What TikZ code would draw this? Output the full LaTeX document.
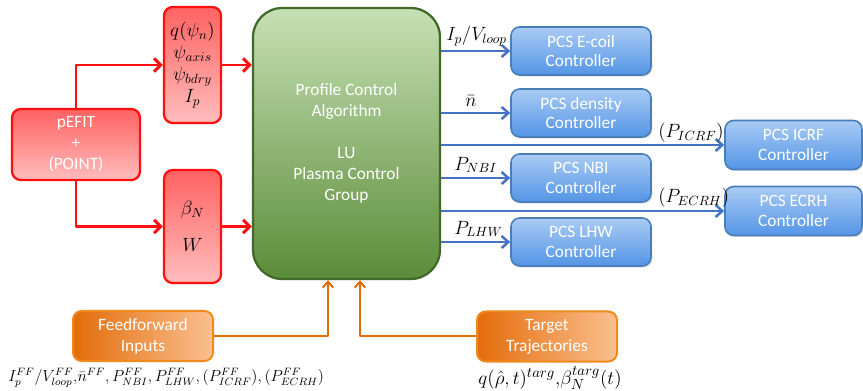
\documentclass[tikz,border=0pt]{standalone}
\usepackage{fontspec}
\setmainfont{Carlito}
\usetikzlibrary{arrows.meta,shadows}
\definecolor{redline}{HTML}{FF1010}
\definecolor{redtop}{HTML}{FF6262}
\definecolor{redbot}{HTML}{FFBDBD}
\definecolor{greentop}{HTML}{C6E0B4}
\definecolor{greenbot}{HTML}{5B8C39}
\definecolor{greenline}{HTML}{41692A}
\definecolor{bluetop}{HTML}{A9CBF4}
\definecolor{bluebot}{HTML}{5495E6}
\definecolor{blueline}{HTML}{4A7EBB}
\definecolor{bluearrow}{HTML}{4472C4}
\definecolor{orangeleft}{HTML}{E46C0A}
\definecolor{orangeright}{HTML}{FAC08F}
\definecolor{orangeline}{HTML}{F08A1C}
\begin{document}
\begin{tikzpicture}[x=.75pt,y=-.75pt,line join=round,
	font=\fontsize{13}{15.75}\selectfont,
	redbox/.style={draw=redline,line width=1.7pt,rounded corners=6.5pt,top color=redtop,bottom color=redbot,inner sep=0pt,align=center},
	bluebox/.style={draw=blueline,line width=1.2pt,rounded corners=6.5pt,top color=bluetop,bottom color=bluebot,inner sep=0pt,align=center,text=white,
		font=\fontsize{13}{14.5}\selectfont,drop shadow={opacity=.25,shadow xshift=1pt,shadow yshift=-1.2pt}},
	orangebox/.style={draw=orangeline,line width=1.5pt,rounded corners=6.5pt,left color=orangeleft,right color=orangeright,inner sep=0pt,align=center,text=white,
		minimum width=105pt,minimum height=37.5pt},
	redarrow/.style={draw=redline,line width=2.2pt,-{Straight Barb[length=5pt,width=10pt,line width=2.2pt]}},
	bluearrow/.style={draw=bluearrow,line width=1.9pt,-{Straight Barb[length=5pt,width=9pt,line width=1.9pt]}},
	orangearrow/.style={draw=orangeleft,line width=1.5pt,-{Straight Barb[length=4.5pt,width=8pt,line width=1.5pt]}},
	lbl/.style={inner sep=0pt,font=\fontsize{14}{16}\selectfont}]
	\useasboundingbox (0,0) rectangle (863,391);
	% sensing side
	\node[redbox,text=white,minimum width=96pt,minimum height=53.25pt] (pefit) at (76,144.5) {pEFIT\\+\\(POINT)};
	\node[redbox,minimum width=42.75pt,minimum height=87pt,font=\fontsize{14.5}{16.5}\selectfont] (qbox) at (192.5,65) {$q(\psi_n)$\\$\psi_{axis}$\\$\psi_{bdry}$\\$I_p$};
	\node[redbox,minimum width=42.75pt,minimum height=84.75pt,font=\fontsize{14.5}{27.75}\selectfont] (bbox) at (192.5,226.5) {$\beta_N$\\$W$};
	% controller
	\node[draw=greenline,line width=1.7pt,rounded corners=22pt,top color=greentop,bottom color=greenbot,minimum width=140.25pt,minimum height=203.25pt,
		inner sep=0pt,align=center,text=white] (pcs) at (346.5,143.5) {Profile Control\\Algorithm\\[15.75pt]LU\\Plasma Control\\Group};
	% actuators
	\foreach \nm/\txt/\y in {ecoil/E-coil/51,dens/density/113,nbi/NBI/178,lhw/LHW/242}
		\node[bluebox,minimum width=105pt,minimum height=36pt] (\nm) at (581,\y) {PCS \txt\\Controller};
	\foreach \nm/\txt/\y in {icrf/ICRF/145,ecrh/ECRH/211}
		\node[bluebox,minimum width=102.75pt,minimum height=36.75pt] (\nm) at (793.5,\y) {PCS \txt\\Controller};
	% references
	\node[orangebox] (ff) at (143,336) {Feedforward\\Inputs};
	\node[orangebox] (targ) at (547,336.5) {Target\\Trajectories};
	\node[lbl,anchor=west,font=\fontsize{11.6}{14}\selectfont] (fflbl) at (8,378) {$I_p^{FF}/V_{loop}^{FF}{,}\bar{n}^{FF}{,}\,P_{NBI}^{FF}{,}\,P_{LHW}^{FF}{,}\,(P_{ICRF}^{FF}){,}\,(P_{ECRH}^{FF})$};
	\node[lbl,font=\fontsize{15}{17}\selectfont] (targlbl) at (550,378) {$q(\hat{\rho},t)^{targ}{,}\beta_N^{targ}(t)$};
	% connectors
	\draw[redarrow] (pefit.north) |- (qbox.west);
	\draw[redarrow] (pefit.south) |- (bbox.west);
	\draw[redarrow] (qbox.east) -- (qbox.east -| pcs.west);
	\draw[redarrow] (bbox.east) -- (bbox.east -| pcs.west);
	\foreach \nm in {ecoil,dens,nbi,lhw,icrf,ecrh}
		\draw[bluearrow] (pcs.east |- \nm.west) -- (\nm.west);
	\node[lbl,anchor=west] (lip) at (446,36) {$I_p/V_{loop}$};
	\node[lbl] (ln) at (471,101) {$\bar{n}$};
	\node[lbl,anchor=west] (lnbi) at (454,165) {$P_{NBI}$};
	\node[lbl,anchor=west] (llhw) at (454,229) {$P_{LHW}$};
	\node[lbl,anchor=west] (licrf) at (658,133) {$(P_{ICRF})$};
	\node[lbl,anchor=west] (lecrh) at (658,198) {$(P_{ECRH})$};
	\coordinate (ffin) at (328,0);
	\coordinate (targin) at (360,0);
	\draw[orangearrow] (ff.east) -| (ffin |- pcs.south);
	\draw[orangearrow] (targ.west) -| (targin |- pcs.south);
\end{tikzpicture}
\end{document}
